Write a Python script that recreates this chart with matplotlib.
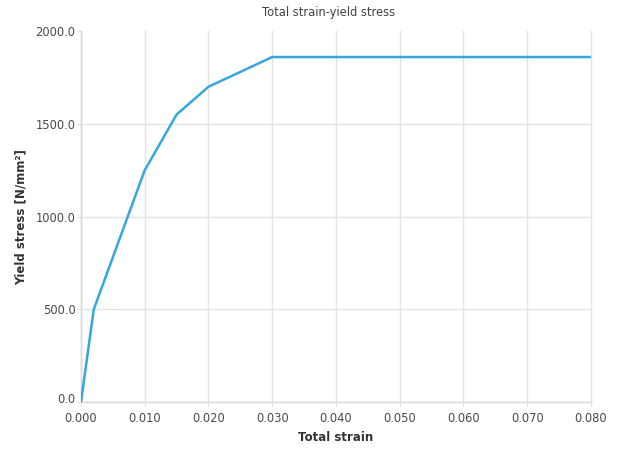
import matplotlib
matplotlib.use("Agg")
import matplotlib.pyplot as plt
import matplotlib.transforms as mtransforms

# strain / stress curve points
total_strain = [0.0, 0.002, 0.010, 0.015, 0.020, 0.030, 0.080]
yield_stress = [0.0, 500.0, 1250.0, 1550.0, 1700.0, 1860.0, 1860.0]

x_ticks = [0.0, 0.01, 0.02, 0.03, 0.04, 0.05, 0.06, 0.07, 0.08]
y_ticks = [0.0, 500.0, 1000.0, 1500.0, 2000.0]

plt.rcParams['font.family'] = ['DejaVu Sans']

fig = plt.figure(figsize=(6.2, 4.5), dpi=100)
ax = fig.add_axes([0.1306, 0.106, 0.8226, 0.825])

ax.plot(total_strain, yield_stress, color='#35a6e0', linewidth=1.8,
        solid_capstyle='butt', zorder=3)

ax.set_xlim(0, 0.08)
ax.set_ylim(0, 2000)
ax.set_xticks(x_ticks)
ax.set_yticks(y_ticks)
ax.set_xticklabels([f"{v:.3f}" for v in x_ticks])
ax.set_yticklabels([f"{v:.1f}" for v in y_ticks])

ax.grid(True, color='#e3e3e3', linewidth=1.0)
ax.set_axisbelow(True)
# keep the last vertical grid line, drop the top horizontal one
for gl in ax.get_xgridlines():
    gl.set_clip_on(False)
ax.get_ygridlines()[-1].set_visible(False)

for side in ['top', 'right']:
    ax.spines[side].set_visible(False)
for side in ['left', 'bottom']:
    ax.spines[side].set_color('#d8d8d8')
    ax.spines[side].set_linewidth(1.0)
ax.tick_params(colors='#e0e0e0', labelcolor='#4a4a4a', labelsize=8.3, length=3)
ax.tick_params(axis='x', pad=4)
ax.tick_params(axis='y', pad=1)

fig.canvas.draw()
# lift the zero label on the y axis a little so it clears the x labels
zero_lbl = ax.get_yticklabels()[0]
zero_lbl.set_transform(zero_lbl.get_transform() +
                       mtransforms.ScaledTranslation(0, 3 / 72, fig.dpi_scale_trans))

ax.set_xlabel("Total strain", fontsize=8.5, fontweight='bold', color='#333333', labelpad=4)
ax.set_ylabel("Yield stress [N/mm²]", fontsize=8.5, fontweight='bold', color='#333333', labelpad=6)
fig.text(0.53, 0.973, "Total strain-yield stress", ha='center', va='center',
         fontsize=8.3, color='#444444')

fig.savefig("out.png", dpi=100)
